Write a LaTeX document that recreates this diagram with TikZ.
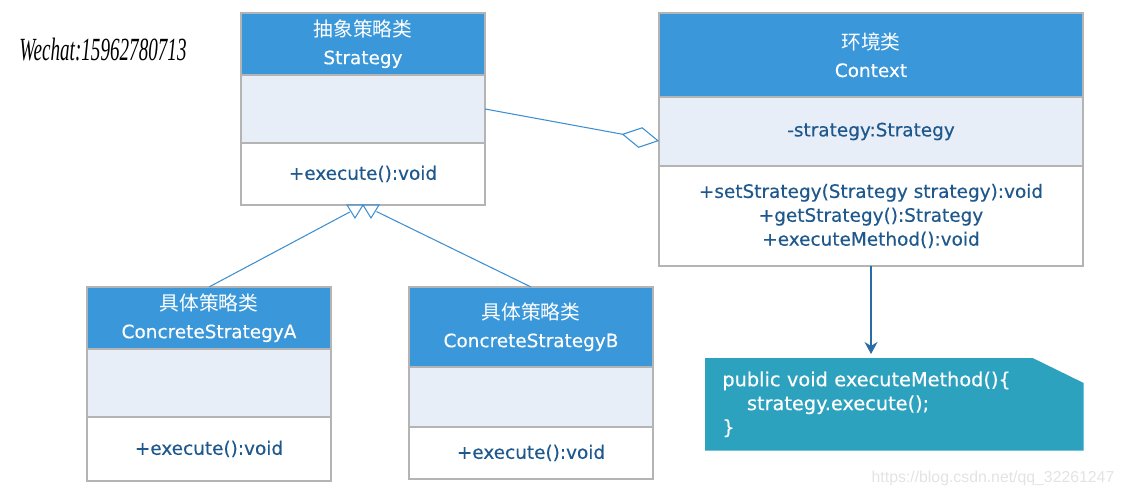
\documentclass[tikz,border=0pt]{standalone}
\usepackage{fontspec}
\usepackage{graphicx}
\setmainfont{DejaVu Sans}[UprightFeatures={FakeBold=0.35}]
\newfontfamily\cjk[Scale=1.07]{Noto Sans CJK SC}
\newfontfamily\handfont{Liberation Serif}
\newfontfamily\urlfont{Liberation Sans}
\usetikzlibrary{arrows.meta,positioning,backgrounds}

\definecolor{umlhead}{RGB}{58,151,217}
\definecolor{umlband}{RGB}{232,238,247}
\definecolor{umlgray}{RGB}{180,180,180}
\definecolor{umltext}{RGB}{30,88,140}
\definecolor{umlline}{RGB}{61,143,209}
\definecolor{umlarrow}{RGB}{43,108,166}
\definecolor{notefill}{RGB}{45,162,191}

\begin{document}
\begin{tikzpicture}[
    x=0.02cm, y=-0.02cm,
    font=\fontsize{10.5}{14.7}\selectfont,
    head/.style={rectangle, draw=umlgray, fill=umlhead, text=white, line width=0.8pt, align=center, inner sep=0pt, outer sep=0pt},
    band/.style={rectangle, draw=umlgray, fill=umlband, line width=0.8pt, inner sep=0pt, outer sep=0pt},
    body/.style={rectangle, draw=umlgray, fill=white, text=umltext, line width=0.8pt, align=center, inner sep=0pt, outer sep=0pt},
    link/.style={draw=umlline, line width=0.6pt},
    agg/.style={link, -{Diamond[open, length=0.76cm, width=0.42cm]}},
    arrow/.style={-{Stealth[length=0.24cm, width=0.26cm]}, draw=umlarrow, line width=0.6pt},
    note/.style={text=white, align=left, text width=6.88cm, inner xsep=0.34cm, inner ysep=0pt, minimum height=1.84cm, font=\fontsize{11}{13.6}\selectfont}
  ]
  \useasboundingbox (0,0) rectangle (1124,496);

  % Abstract strategy
  \node[head, minimum width=4.88cm, minimum height=1.24cm, anchor=north] (sh) at (363,13) {{\cjk 抽象策略类}\\[1pt]Strategy};
  \node[band, minimum width=4.88cm, minimum height=1.36cm, below=0pt of sh] (sa) {};
  \node[body, minimum width=4.88cm, minimum height=1.24cm, below=0pt of sa] (so) {+execute():void};

  % Context
  \node[head, minimum width=8.48cm, minimum height=1.68cm, anchor=north] (ch) at (871,13) {{\cjk 环境类}\\[1pt]Context};
  \node[band, minimum width=8.48cm, minimum height=1.38cm, below=0pt of ch, text=umltext] (ca) {-strategy:Strategy};
  \node[body, minimum width=8.48cm, minimum height=2.0cm, below=0pt of ca, font=\fontsize{10.5}{13.6}\selectfont] (co)
    {+setStrategy(Strategy strategy):void\\+getStrategy():Strategy\\+executeMethod():void};

  % Concrete strategies
  \node[head, minimum width=4.88cm, minimum height=1.24cm, anchor=north] (ah) at (209,287) {{\cjk 具体策略类}\\[1pt]ConcreteStrategyA};
  \node[band, minimum width=4.88cm, minimum height=1.36cm, below=0pt of ah] (aa) {};
  \node[body, minimum width=4.88cm, minimum height=1.28cm, below=0pt of aa] (ao) {+execute():void};

  \node[head, minimum width=4.88cm, minimum height=1.6cm, anchor=north] (bh) at (531,287) {{\cjk 具体策略类}\\[1pt]ConcreteStrategyB};
  \node[band, minimum width=4.88cm, minimum height=1.2cm, below=0pt of bh] (ba) {};
  \node[body, minimum width=4.88cm, minimum height=1.04cm, below=0pt of ba] (bo) {+execute():void};

  % Note with cut corner
  \node[note, anchor=north west] (note) at (705,358)
    {public void executeMethod()\{\\\hspace*{14pt}strategy.execute();\\\}};
  \begin{scope}[on background layer]
    \fill[notefill] (note.north west) -- ([xshift=-1.02cm]note.north east) -- ([yshift=-0.5cm]note.north east)
      -- (note.south east) -- (note.south west) -- cycle;
  \end{scope}

  % Relations
  \draw[link, shorten >=0.3cm] (ah.north) -- (so.south);
  \draw[link, shorten >=0.3cm] (bh.north) -- (so.south);
  \draw[link] ([xshift=-0.32cm]so.south) -- ++(8,13) -- ++(8,-13) -- ++(8,13) -- ++(8,-13) -- cycle;
  \draw[agg] (sa.east) -- ([yshift=-0.19cm]ca.west);
  \draw[arrow, shorten >=0.08cm] (co.south) -- (co.south |- note.north);

  % Marks
  \node (wechat) at (103,50) {\scalebox{0.68}[1.15]{\handfont\itshape\fontsize{16}{16}\selectfont Wechat:15962780713}};
  \node[text=gray!22, font=\urlfont\fontsize{9}{9}\selectfont] (url) at (993,478) {https://blog.csdn.net/qq\_32261247};
\end{tikzpicture}
\end{document}
